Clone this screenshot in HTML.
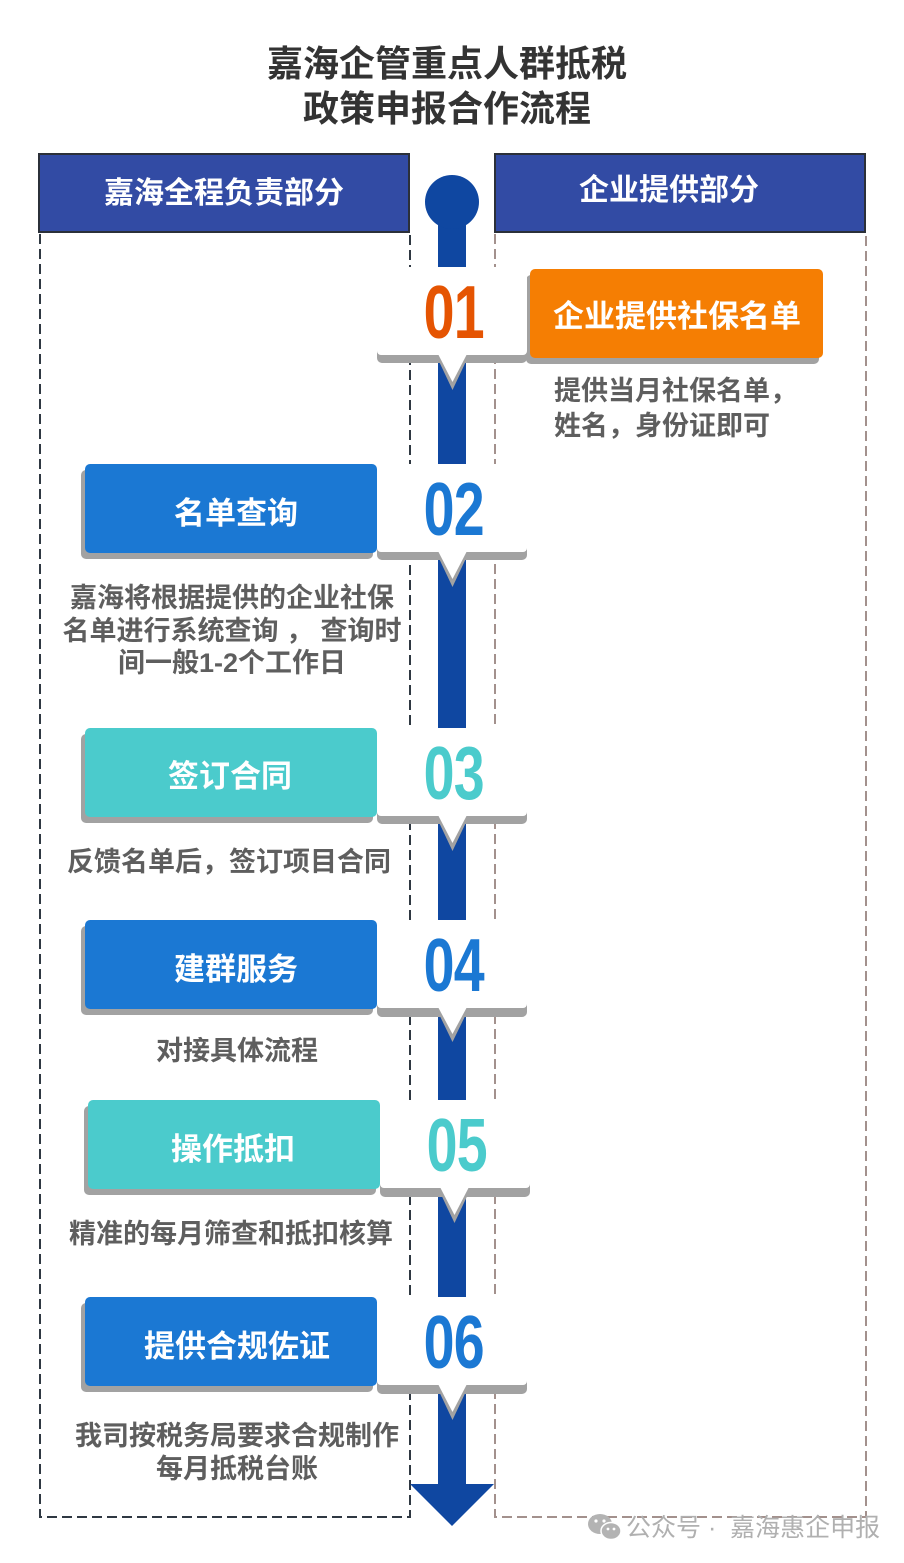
<!DOCTYPE html>
<html><head><meta charset="utf-8">
<style>
html,body{margin:0;padding:0;}
body{width:904px;height:1563px;background:#fff;position:relative;overflow:hidden;font-family:"Liberation Sans","Noto Sans CJK SC",sans-serif;}
.t{position:absolute;white-space:nowrap;text-align:center;font-weight:700;}
.title{font-size:36px;color:#333;line-height:44px;left:0;width:894px;}
.hd{font-size:30px;color:#fff;line-height:40px;}
.bx{font-size:31px;color:#fff;line-height:40px;}
.ds{font-size:27px;color:#5e5e5e;line-height:33px;}
.num{position:absolute;left:377px;width:154px;height:90px;display:flex;align-items:center;justify-content:center;}
.num span{display:block;font-family:"Liberation Sans",sans-serif;font-weight:700;font-size:75px;line-height:1;transform:scaleX(0.74);letter-spacing:-1px;}
</style></head><body>
<svg width="904" height="1563" style="position:absolute;left:0;top:0">
  <path d="M40 234 V1517 H410 V234" fill="none" stroke="#2f3842" stroke-width="2" stroke-dasharray="10 5"/>
  <path d="M495 234 V1517 H866 V234" fill="none" stroke="#a3918d" stroke-width="2" stroke-dasharray="10 5"/>
  <rect x="39" y="154" width="370" height="78" fill="#324ba4" stroke="#2b3039" stroke-width="2"/>
  <rect x="495" y="154" width="370" height="78" fill="#324ba4" stroke="#2b3039" stroke-width="2"/>
  <rect x="438" y="205" width="28" height="1282" fill="#0f47a1"/>
  <circle cx="452" cy="202" r="27" fill="#0f47a1"/>
  <polygon points="410,1484 494,1484 452,1526" fill="#0f47a1"/>

  <rect x="526" y="275" width="293" height="89" rx="5" fill="#a2a2a2"/>
  <rect x="530" y="269" width="293" height="89" rx="5" fill="#f57e03"/>
  <rect x="377" y="273" width="150" height="90" rx="5" fill="#a2a2a2"/>
  <polygon points="436,355 469,355 452.5,390" fill="#a2a2a2"/>
  <rect x="377" y="267" width="150" height="88" rx="4" fill="#fff"/>
  <polygon points="438,354 467,354 452.5,382" fill="#fff"/>

  <rect x="81" y="470" width="292" height="89" rx="5" fill="#a2a2a2"/>
  <rect x="85" y="464" width="292" height="89" rx="5" fill="#1b78d3"/>
  <rect x="377" y="470" width="150" height="90" rx="5" fill="#a2a2a2"/>
  <polygon points="436,552 469,552 452.5,587" fill="#a2a2a2"/>
  <rect x="377" y="464" width="150" height="88" rx="4" fill="#fff"/>
  <polygon points="438,551 467,551 452.5,579" fill="#fff"/>

  <rect x="81" y="734" width="292" height="89" rx="5" fill="#a2a2a2"/>
  <rect x="85" y="728" width="292" height="89" rx="5" fill="#4bcbcc"/>
  <rect x="377" y="734" width="150" height="90" rx="5" fill="#a2a2a2"/>
  <polygon points="436,816 469,816 452.5,851" fill="#a2a2a2"/>
  <rect x="377" y="728" width="150" height="88" rx="4" fill="#fff"/>
  <polygon points="438,815 467,815 452.5,843" fill="#fff"/>

  <rect x="81" y="926" width="292" height="89" rx="5" fill="#a2a2a2"/>
  <rect x="85" y="920" width="292" height="89" rx="5" fill="#1b78d3"/>
  <rect x="377" y="926" width="150" height="91" rx="5" fill="#a2a2a2"/>
  <polygon points="436,1008 469,1008 452.5,1042" fill="#a2a2a2"/>
  <rect x="377" y="920" width="150" height="88" rx="4" fill="#fff"/>
  <polygon points="438,1007 467,1007 452.5,1034" fill="#fff"/>

  <rect x="84" y="1106" width="292" height="89" rx="5" fill="#a2a2a2"/>
  <rect x="88" y="1100" width="292" height="89" rx="5" fill="#4bcbcc"/>
  <rect x="380" y="1106" width="150" height="91" rx="5" fill="#a2a2a2"/>
  <polygon points="438,1188 471,1188 454.5,1223" fill="#a2a2a2"/>
  <rect x="380" y="1100" width="150" height="88" rx="4" fill="#fff"/>
  <polygon points="440,1187 469,1187 454.5,1215" fill="#fff"/>

  <rect x="81" y="1303" width="292" height="89" rx="5" fill="#a2a2a2"/>
  <rect x="85" y="1297" width="292" height="89" rx="5" fill="#1b78d3"/>
  <rect x="377" y="1303" width="150" height="91" rx="5" fill="#a2a2a2"/>
  <polygon points="436,1385 469,1385 452.5,1420" fill="#a2a2a2"/>
  <rect x="377" y="1297" width="150" height="88" rx="4" fill="#fff"/>
  <polygon points="438,1384 467,1384 452.5,1412" fill="#fff"/>

  <ellipse cx="600" cy="1524" rx="12" ry="10" fill="#b3b3b3"/>
  <ellipse cx="611" cy="1531" rx="10" ry="8.5" fill="#b3b3b3" stroke="#fff" stroke-width="1.5"/>
  <circle cx="596" cy="1521" r="1.6" fill="#fff"/>
  <circle cx="604" cy="1521" r="1.6" fill="#fff"/>
  <circle cx="608" cy="1529" r="1.4" fill="#fff"/>
  <circle cx="614" cy="1529" r="1.4" fill="#fff"/>
</svg>

<div class="t title" style="top:42px;">嘉海企管重点人群抵税</div>
<div class="t title" style="top:87px;">政策申报合作流程</div>

<div class="t hd" style="left:39px;width:370px;top:174px;">嘉海全程负责部分</div>
<div class="t hd" style="left:495px;width:348px;top:171px;">企业提供部分</div>

<div class="t bx" style="left:530px;width:294px;top:297px;">企业提供社保名单</div>
<div class="t bx" style="left:136px;width:200px;top:494px;">名单查询</div>
<div class="t bx" style="left:130px;width:200px;top:757px;">签订合同</div>
<div class="t bx" style="left:136px;width:200px;top:950px;">建群服务</div>
<div class="t bx" style="left:133px;width:200px;top:1130px;">操作抵扣</div>
<div class="t bx" style="left:87px;width:300px;top:1327px;">提供合规佐证</div>

<div class="num" style="top:267px;"><span style="color:#e55402;">01</span></div>
<div class="num" style="top:464px;"><span style="color:#1b78d3;">02</span></div>
<div class="num" style="top:728px;"><span style="color:#4bcbcc;">03</span></div>
<div class="num" style="top:920px;"><span style="color:#1b78d3;">04</span></div>
<div class="num" style="top:1100px;left:380px;"><span style="color:#4bcbcc;">05</span></div>
<div class="num" style="top:1297px;"><span style="color:#1b78d3;">06</span></div>

<div class="t ds" style="left:554px;top:375px;text-align:left;">提供当月社保名单，</div>
<div class="t ds" style="left:554px;top:410px;text-align:left;">姓名，身份证即可</div>

<div class="t ds" style="left:32px;width:400px;top:582px;">嘉海将根据提供的企业社保</div>
<div class="t ds" style="left:32px;width:400px;top:615px;">名单进行系统查询 ， 查询时</div>
<div class="t ds" style="left:32px;width:400px;top:647px;">间一般1-2个工作日</div>

<div class="t ds" style="left:29px;width:400px;top:846px;">反馈名单后，签订项目合同</div>

<div class="t ds" style="left:37px;width:400px;top:1035px;">对接具体流程</div>

<div class="t ds" style="left:31px;width:400px;top:1218px;">精准的每月筛查和抵扣核算</div>

<div class="t ds" style="left:37px;width:400px;top:1420px;">我司按税务局要求合规制作</div>
<div class="t ds" style="left:37px;width:400px;top:1453px;">每月抵税台账</div>

<div class="t" style="left:626px;top:1514px;font-size:25px;line-height:28px;font-weight:400;color:#b0b0b0;text-align:left;">公众号&nbsp;·&nbsp;&nbsp;嘉海惠企申报</div>
</body></html>
